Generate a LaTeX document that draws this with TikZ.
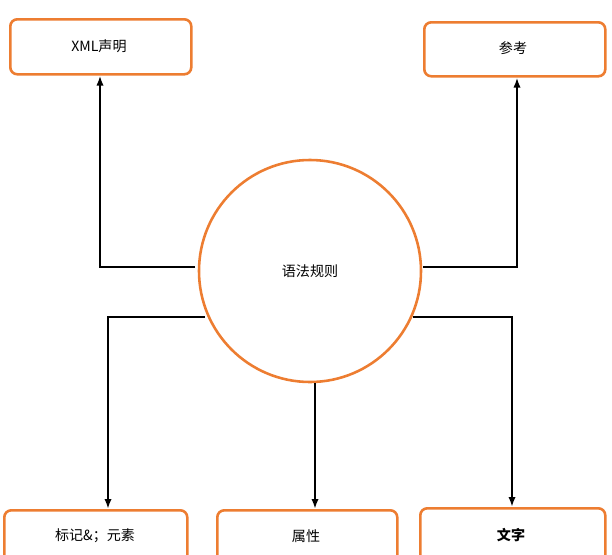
\documentclass[tikz,border=0pt]{standalone}
\usepackage{fontspec}
\setmainfont{Noto Sans CJK SC}
\usetikzlibrary{arrows.meta, positioning}
\definecolor{boxorange}{RGB}{237,125,49}
\begin{document}
\begin{tikzpicture}[x=0.03cm, y=-0.03cm,
        every node/.style={align=center, font=\fontsize{12}{14}\selectfont},
        box/.style={draw=boxorange, line width=2.2pt, rounded corners=6pt, anchor=north west},
        arrow/.style={-{Latex[length=3mm, width=2.2mm]}, line width=1.8pt}
        ]
        \clip (0,0) rectangle (612,554);
        \useasboundingbox (0,0) rectangle (612,554);

        % Nodes
        \node[draw=boxorange, line width=2.2pt, circle, minimum size=222*0.03cm] (rules) at (310,271) {语法规则};
        \node[box, minimum width=181*0.03cm, minimum height=55*0.03cm] (xml) at (9,18) {};
        \node at (99,46) {XML声明};
        \node[box, minimum width=181*0.03cm, minimum height=54*0.03cm] (ref) at (423,21) {};
        \node at (513,48) {参考};
        \node[box, minimum width=183*0.03cm, minimum height=60*0.03cm] (mark) at (3,509) {};
        \node at (95,536) {标记\&；元素};
        \node[box, minimum width=180*0.03cm, minimum height=60*0.03cm] (attr) at (216,509) {};
        \node at (306,536) {属性};
        \node[box, minimum width=185*0.03cm, minimum height=60*0.03cm] (text) at (419,507) {};
        \node at (511,535) {\bfseries 文字};

        % Connectors
        \draw[arrow] (195,267) -| (xml.south -| 100,0);
        \draw[arrow] (423,267) -| (ref.south -| 517,0);
        \draw[arrow] (205,317) -| (mark.north -| 108,0);
        \draw[arrow] (rules.south -| 315,0) -- (attr.north -| 315,0);
        \draw[arrow] (413,317) -| (text.north -| 512,0);
\end{tikzpicture}
\end{document}
